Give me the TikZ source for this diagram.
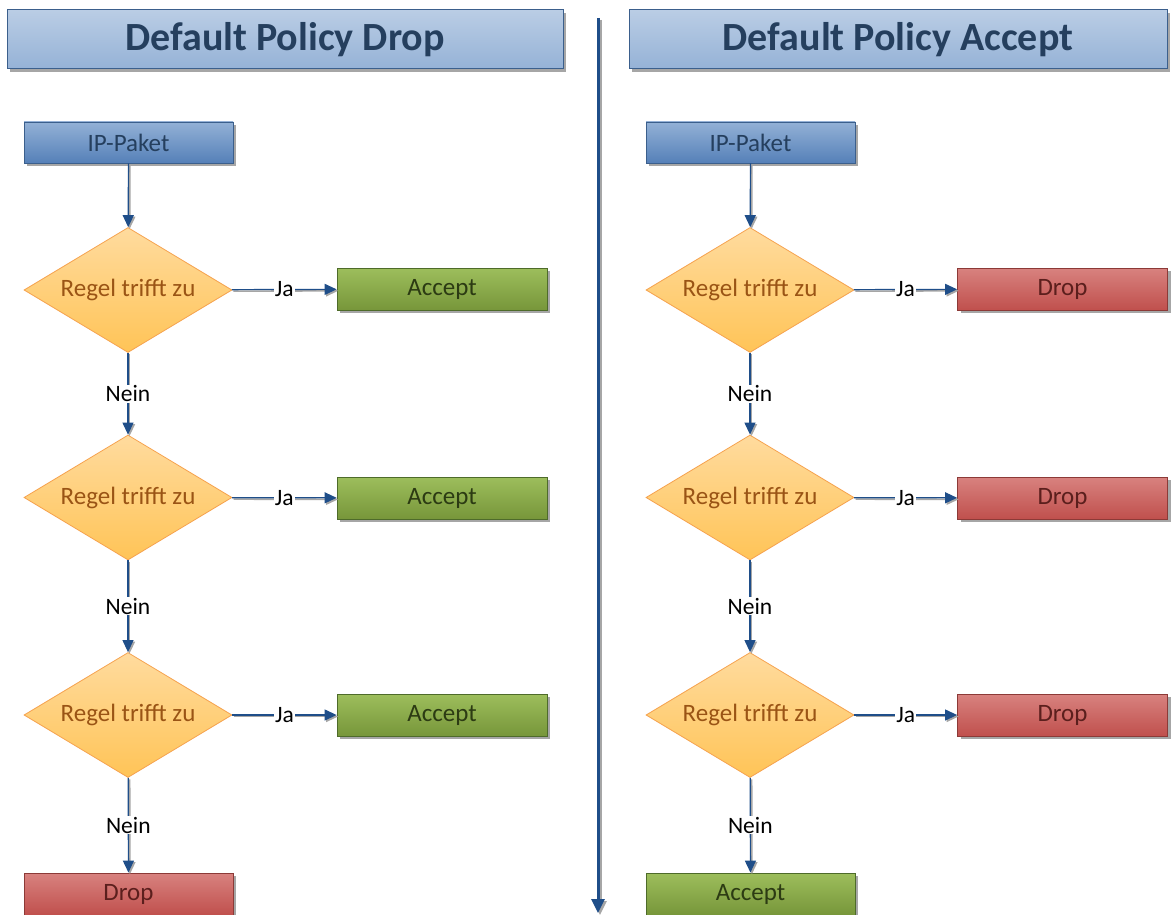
\documentclass[tikz,border=0pt]{standalone}
\usepackage{fontspec}
\setmainfont{Carlito}
\usetikzlibrary{shapes.geometric,arrows.meta,shadows}

\definecolor{navy}{HTML}{1F4E89}
\definecolor{hdrtop}{HTML}{BACDE5}
\definecolor{hdrbot}{HTML}{95B2D6}
\definecolor{hdrline}{HTML}{3B5F8C}
\definecolor{hdrtext}{HTML}{253F5E}
\definecolor{iptop}{HTML}{93B1D6}
\definecolor{ipbot}{HTML}{5580B8}
\definecolor{dtop}{HTML}{FFDB9E}
\definecolor{dbot}{HTML}{FFC457}
\definecolor{dline}{HTML}{F6A24E}
\definecolor{dtext}{HTML}{9A5415}
\definecolor{gtop}{HTML}{9DBE5C}
\definecolor{gbot}{HTML}{77963A}
\definecolor{gline}{HTML}{4E6B2A}
\definecolor{gtext}{HTML}{2C3B13}
\definecolor{rtop}{HTML}{D8827F}
\definecolor{rbot}{HTML}{C0504D}
\definecolor{rline}{HTML}{8C3A37}
\definecolor{rtext}{HTML}{5B1F1D}

\tikzset{
  boxshadow/.style={drop shadow={shadow xshift=3pt,shadow yshift=-3pt,opacity=0.35,fill=black}},
  header/.style={draw=hdrline,line width=1pt,top color=hdrtop,bottom color=hdrbot,
    text=hdrtext,font=\fontsize{40}{46}\selectfont\bfseries,inner sep=0pt,boxshadow},
  ipbox/.style={draw=hdrline,line width=0.8pt,top color=iptop,bottom color=ipbot,
    text=hdrtext,font=\fontsize{25}{28}\selectfont,minimum width=209pt,minimum height=41pt,
    inner sep=0pt,boxshadow},
  decision/.style={diamond,aspect=1.66,draw=dline,line width=0.8pt,top color=dtop,bottom color=dbot,
    text=dtext,font=\fontsize{25}{28}\selectfont,minimum width=208pt,minimum height=125pt,
    inner sep=0pt},
  acceptbox/.style={draw=gline,line width=0.8pt,top color=gtop,bottom color=gbot,
    text=gtext,font=\fontsize{25}{28}\selectfont,minimum width=210pt,minimum height=42pt,
    inner sep=0pt,boxshadow},
  dropbox/.style={draw=rline,line width=0.8pt,top color=rtop,bottom color=rbot,
    text=rtext,font=\fontsize{25}{28}\selectfont,minimum width=210pt,minimum height=42pt,
    inner sep=0pt,boxshadow},
  flow/.style={draw=navy,line width=1.2pt,-{Triangle[length=12pt,width=11pt]},
    preaction={draw=black!35,line width=1.6pt,-{Triangle[length=12pt,width=11pt]},
      transform canvas={xshift=1.5pt,yshift=-1.5pt}}},
  lbl/.style={fill=white,inner sep=1pt,text=black,font=\fontsize{23.5}{26}\selectfont}
}

\begin{document}
\begin{tikzpicture}[x=1pt,y=-1pt]
\useasboundingbox[fill=white] (0,0) rectangle (1176,915);

% headers
\node[header,minimum width=556pt,minimum height=59pt] (hdrL) at (285,39.5) {Default Policy Drop};
\node[header,minimum width=538pt,minimum height=59pt] (hdrR) at (898,39.5) {Default Policy Accept};

% divider
\coordinate (divTop) at (598,18);
\coordinate (divBot) at (598,913);
\draw[draw=navy,line width=3pt,-{Triangle[length=14pt,width=13pt]},
  preaction={draw=black!35,line width=3pt,-{Triangle[length=14pt,width=13pt]},
    transform canvas={xshift=2pt,yshift=-2pt}}] (divTop) -- (divBot);

% left column: default policy drop
\node[ipbox] (ipL) at (128.5,142.5) {IP-Paket};
\node[decision] (dL1) at (128,290) {Regel trifft zu};
\node[decision] (dL2) at (128,497.5) {Regel trifft zu};
\node[decision] (dL3) at (128,715) {Regel trifft zu};
\node[acceptbox] (aL1) at (442,289) {Accept};
\node[acceptbox] (aL2) at (442,498) {Accept};
\node[acceptbox] (aL3) at (442,715) {Accept};
\node[dropbox,minimum width=209pt] (endL) at (128.5,894) {Drop};

\draw[flow] (ipL) -- (dL1);
\draw[flow] (dL1) -- node[lbl] {Nein} (dL2);
\draw[flow] (dL2) -- node[lbl] {Nein} (dL3);
\draw[flow] (dL3) -- node[lbl] {Nein} (endL);
\draw[flow] (dL1) -- node[lbl] {Ja} (aL1);
\draw[flow] (dL2) -- node[lbl] {Ja} (aL2);
\draw[flow] (dL3) -- node[lbl] {Ja} (aL3);

% right column: default policy accept
\node[ipbox] (ipR) at (750.5,142.5) {IP-Paket};
\node[decision] (dR1) at (750,290) {Regel trifft zu};
\node[decision] (dR2) at (750,497.5) {Regel trifft zu};
\node[decision] (dR3) at (750,715) {Regel trifft zu};
\node[dropbox] (rR1) at (1062.5,289) {Drop};
\node[dropbox] (rR2) at (1062.5,498) {Drop};
\node[dropbox] (rR3) at (1062.5,715) {Drop};
\node[acceptbox,minimum width=209pt] (endR) at (750.5,894) {Accept};

\draw[flow] (ipR) -- (dR1);
\draw[flow] (dR1) -- node[lbl] {Nein} (dR2);
\draw[flow] (dR2) -- node[lbl] {Nein} (dR3);
\draw[flow] (dR3) -- node[lbl] {Nein} (endR);
\draw[flow] (dR1) -- node[lbl] {Ja} (rR1);
\draw[flow] (dR2) -- node[lbl] {Ja} (rR2);
\draw[flow] (dR3) -- node[lbl] {Ja} (rR3);
\end{tikzpicture}
\end{document}
